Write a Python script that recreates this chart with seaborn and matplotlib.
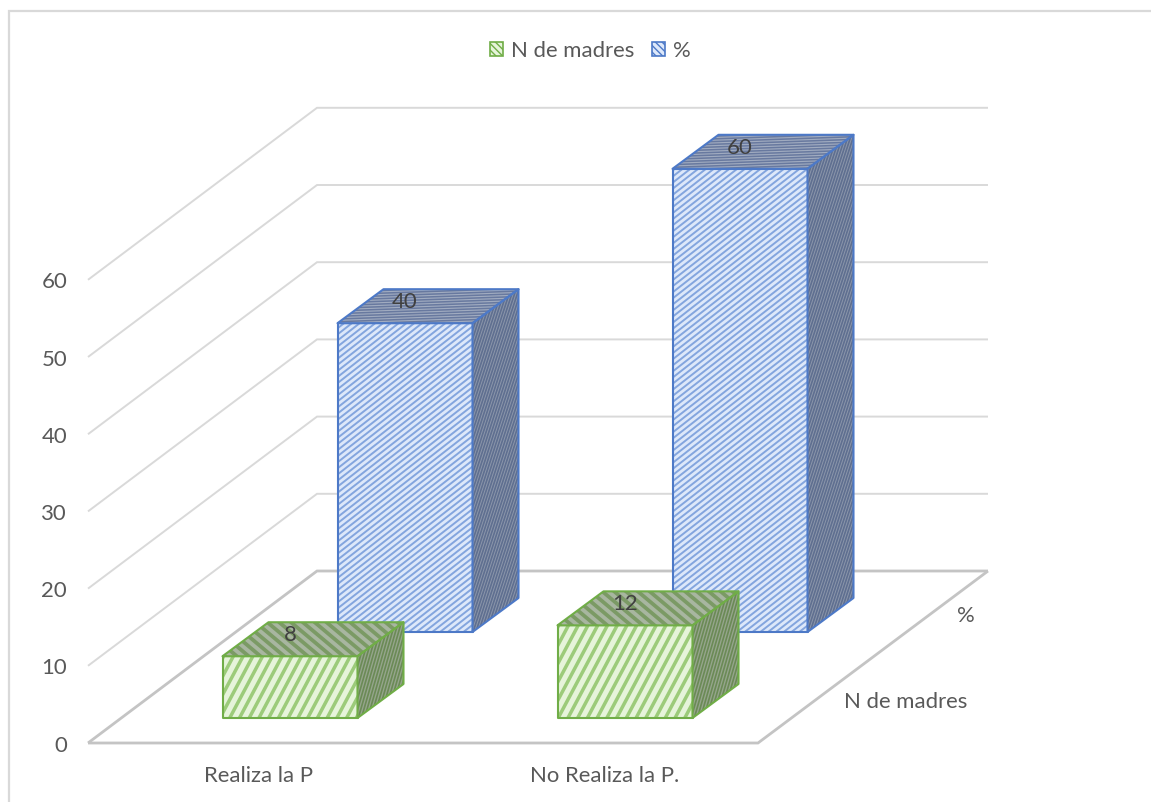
import numpy as np
import pandas as pd
import matplotlib
matplotlib.use("Agg")
import matplotlib.pyplot as plt
import seaborn as sns
from matplotlib.collections import LineCollection
from matplotlib.patches import Patch, Polygon
from matplotlib.transforms import IdentityTransform

# Values
categories = ["Realiza la P", "No Realiza la P."]
series_names = ["N de madres", "%"]
n_madres = [8, 12]
porcentaje = [40, 60]
wall_ticks = [0, 10, 20, 30, 40, 50, 60]

# Oblique projection of the 3-D chart box, in figure pixels
WIDTH, HEIGHT = 1151, 802
CAT_ORIGIN, CAT_STEP = 290.0, 335.0   # front row: centre of first category, spacing
BASE_Y, UNIT = 718.0, 7.72            # front row baseline, pixels per value unit
ROW_DX, ROW_DY = 115.0, 86.0          # shift from one series row to the next
BAR_DX, BAR_DY = 46.0, 34.0           # depth of a bar
BAR_WIDTH = 135.0 / CAT_STEP
FLOOR = dict(fl=(88, 743), fr=(758, 743), br=(988, 571), bl=(317, 571))

TEXT = "#595959"
GRID = "#d9d9d9"
AXIS = "#c4c4c4"

sns.set_theme(style="white")
plt.rcParams["font.family"] = ["Lato", "DejaVu Sans"]
FS = 15.9
TEXT_DROP = 2.5   # Lato sits high in its line box; nudge labels down by this many pixels

fig = plt.figure(figsize=(WIDTH / 100, HEIGHT / 100), dpi=100, facecolor="white")
ax = fig.add_axes([0, 0, 1, 1])


def xd(px):
    return (px - CAT_ORIGIN) / CAT_STEP


def yd(py):
    return (BASE_Y - py) / UNIT


def set_limits():
    ax.set_xlim(xd(0), xd(WIDTH))
    ax.set_ylim(yd(HEIGHT), yd(0))


def px_line(xs, ys, color, lw, z=1):
    ax.plot([xd(x) for x in xs], [yd(y) for y in ys], color=color, lw=lw, zorder=z,
            solid_capstyle="butt", solid_joinstyle="miter", clip_on=False)


def stripes(poly, angle, spacing, color, lw, z):
    """Clip a set of parallel lines, laid out in display space, to a polygon."""
    pts = poly.get_transform().transform(poly.get_xy())
    c = pts.mean(axis=0)
    r = np.ptp(pts, axis=0).max() * 1.5
    d = np.array([np.cos(np.radians(angle)), np.sin(np.radians(angle))])
    n = np.array([-d[1], d[0]])
    segs = [[c + n * o - d * r, c + n * o + d * r] for o in np.arange(-r, r, spacing)]
    lc = LineCollection(segs, colors=color, linewidths=lw, transform=IdentityTransform(), zorder=z)
    ax.add_collection(lc, autolim=False)
    lc.set_clip_path(poly)


STYLES = {
    "N de madres": dict(
        edge="#70ad47",
        front=("#e6f4da", "#9ccb7a", 62, 8.6, 2.5),
        top=("#a8b6a0", "#7b9a65", 140, 7.6, 2.7),
        side=("#96a68d", "#6b8a56", 74, 3.0, 1.2),
    ),
    "%": dict(
        edge="#4d79c7",
        front=("#dde8fa", "#83a5de", 38, 4.8, 1.4),
        top=("#a0abc0", "#68799f", 2, 2.7, 1.1),
        side=("#8d98ac", "#5f6f90", 72, 2.6, 1.2),
    ),
}


def face(verts, style, edge, z):
    fill, line, angle, spacing, lw = style
    poly = Polygon(verts, closed=True, facecolor=fill, edgecolor="none", zorder=z)
    ax.add_patch(poly)
    stripes(poly, angle, spacing, line, lw, z + 0.1)
    ax.add_patch(Polygon(verts, closed=True, fill=False, edgecolor=edge, lw=1.5,
                         joinstyle="round", zorder=z + 0.2))


# Back wall, side wall and floor
for tick in wall_ticks:
    off = tick * UNIT
    colour, lw = (AXIS, 2.0) if tick == 0 else (GRID, 1.4)
    px_line([FLOOR["fl"][0], FLOOR["bl"][0], FLOOR["br"][0]],
            [FLOOR["fl"][1] - off, FLOOR["bl"][1] - off, FLOOR["br"][1] - off], colour, lw)
    ax.text(xd(67), yd(FLOOR["fl"][1] - off + TEXT_DROP), str(tick), ha="right", va="center",
            color=TEXT, fontsize=FS)
px_line([FLOOR["fl"][0], FLOOR["fr"][0], FLOOR["br"][0]],
        [FLOOR["fl"][1], FLOOR["fr"][1], FLOOR["br"][1]], AXIS, 2.0)

# Chart frame: only the left and top edges are visible
px_line([9, 9, WIDTH], [HEIGHT, 11, 11], GRID, 1.6)

# Bars, back row first so the front row overlaps it
rows = [(1, "%", porcentaje), (0, "N de madres", n_madres)]
for row, name, values in rows:
    df = pd.DataFrame({"pos": [i + row * ROW_DX / CAT_STEP for i in range(len(categories))],
                       "valor": values})
    before = len(ax.containers)
    sns.barplot(data=df, x="pos", y="valor", native_scale=True, width=BAR_WIDTH,
                errorbar=None, color=STYLES[name]["front"][0], saturation=1,
                bottom=row * ROW_DY / UNIT, ax=ax, zorder=3 + (1 - row) * 3)
    set_limits()
    sty = STYLES[name]
    dx, dy = BAR_DX / CAT_STEP, BAR_DY / UNIT
    z = 3 + (1 - row) * 3
    for bar, value in zip(ax.containers[before], values):
        x0, x1 = bar.get_x(), bar.get_x() + bar.get_width()
        y0, y1 = bar.get_y(), bar.get_y() + bar.get_height()
        face([(x0, y0), (x1, y0), (x1, y1), (x0, y1)], sty["front"], sty["edge"], z + 0.3)
        face([(x0, y1), (x1, y1), (x1 + dx, y1 + dy), (x0 + dx, y1 + dy)], sty["top"], sty["edge"], z + 0.6)
        face([(x1, y0), (x1 + dx, y0 + dy), (x1 + dx, y1 + dy), (x1, y1)], sty["side"], sty["edge"], z + 0.6)
        ax.text((x0 + x1) / 2, y1 + 21 / UNIT, str(value), ha="center", va="center",
                color="#404040", fontsize=FS, zorder=z + 1)

# Category and series axis labels
for label, px in zip(categories, [258, 605]):
    ax.text(xd(px), yd(776), label, ha="center", va="center", color=TEXT, fontsize=FS)
ax.text(xd(906), yd(702), series_names[0], ha="center", va="center", color=TEXT, fontsize=FS)
ax.text(xd(966), yd(616), series_names[1], ha="center", va="center", color=TEXT, fontsize=FS)

handles = [Patch(facecolor=STYLES[n]["front"][0], edgecolor=STYLES[n]["edge"],
                 hatch="\\\\\\\\\\", lw=1.2, label=n) for n in series_names]
ax.legend(handles=handles, loc="center", bbox_to_anchor=(590 / WIDTH, 1 - 51 / HEIGHT),
          ncol=2, frameon=False, fontsize=FS, labelcolor=TEXT, handlelength=0.6,
          handleheight=0.6, handletextpad=0.35, columnspacing=0.8)

ax.set_axis_off()
set_limits()
fig.savefig("out.png", dpi=100)
